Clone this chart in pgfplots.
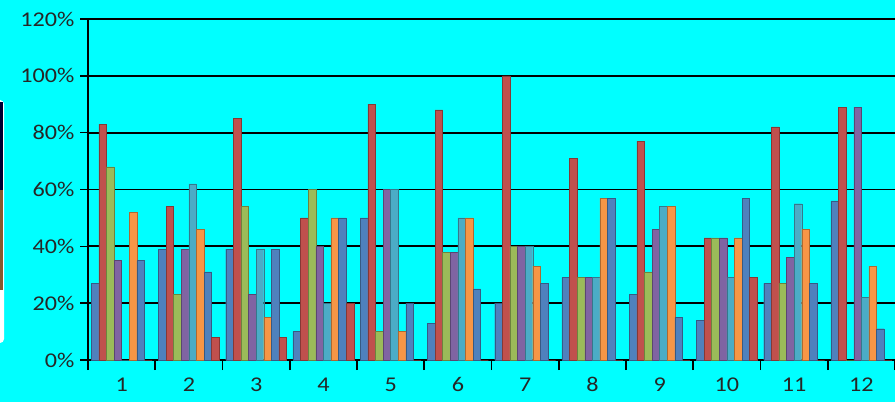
\documentclass[border=0pt]{standalone}
\usepackage{fontspec}
\usepackage{pgfplots}
\usepackage{pgfplotstable}
\pgfplotsset{compat=1.18}
\newfontfamily\lab[FakeStretch=1.15]{Carlito}
\definecolor{bgc}{HTML}{00FFFF}
\definecolor{c1}{HTML}{4F81BD}
\definecolor{c2}{HTML}{C0504D}
\definecolor{c3}{HTML}{9BBB59}
\definecolor{c4}{HTML}{8064A2}
\definecolor{c5}{HTML}{4BACC6}
\definecolor{c6}{HTML}{F79646}
\definecolor{c7}{HTML}{4F81BD}
\definecolor{c8}{HTML}{C0504D}
\pgfplotstableread{
x  a  b   c  d  e  f  g  h
1  27 83  68 35 0  52 35 0
2  39 54  23 39 62 46 31 8
3  39 85  54 23 39 15 39 8
4  10 50  60 40 20 50 50 20
5  50 90  10 60 60 10 20 0
6  13 88  38 38 50 50 25 0
7  20 100 40 40 40 33 27 0
8  29 71  29 29 29 57 57 0
9  23 77  31 46 54 54 15 0
10 14 43  43 43 29 43 57 29
11 27 82  27 36 55 46 27 0
12 56 89  0  89 22 33 11 0
}\data
\begin{document}
\begin{tikzpicture}[x=1pt,y=1pt]
\fill[bgc] (0,0) rectangle (895,402);
\useasboundingbox (0,0) rectangle (895,402);
\begin{scope}
\clip (0,0) rectangle (895,402);
\fill[white, rounded corners=4pt] (-10,59) rectangle (4,302);
\fill[brown!70!black] (-10,112) rectangle (3,212);
\fill[black!80!blue] (-10,212) rectangle (3,300);
\end{scope}
\begin{axis}[
  at={(88pt,42pt)}, anchor=south west,
  scale only axis, width=807pt, height=341pt,
  xmin=0.5, xmax=12.5, ymin=0, ymax=120,
  ybar=0pt, bar width=7.6pt,
  axis x line=bottom, axis y line=left,
  axis line style={-, black, line width=1.8pt},
  ymajorgrids, grid style={black, line width=1.8pt},
  xtick={1,...,12}, xticklabels={1,2,3,4,5,6,7,8,9,10,11,12},
  minor xtick={0.5,1.5,...,12.5},
  major x tick style={draw=none},
  minor x tick style={black, line width=1.6pt},
  ytick={0,20,...,120},
  yticklabels={0\%,20\%,40\%,60\%,80\%,100\%,120\%},
  y tick style={black, line width=1.6pt},
  tick align=outside, major tick length=8pt, minor tick length=10pt,
  ticklabel style={font=\lab\fontsize{21}{21}\selectfont, text=black!85},
  yticklabel style={xshift=-2pt},
  xticklabel style={yshift=-6pt},
  clip=false,
]
\addplot[fill=c1, draw=c1!70!black, line width=0.4pt] table[x=x,y=a]{\data};
\addplot[fill=c2, draw=c2!70!black, line width=0.4pt] table[x=x,y=b]{\data};
\addplot[fill=c3, draw=c3!70!black, line width=0.4pt] table[x=x,y=c]{\data};
\addplot[fill=c4, draw=c4!70!black, line width=0.4pt] table[x=x,y=d]{\data};
\addplot[fill=c5, draw=c5!70!black, line width=0.4pt] table[x=x,y=e]{\data};
\addplot[fill=c6, draw=c6!70!black, line width=0.4pt] table[x=x,y=f]{\data};
\addplot[fill=c7, draw=c7!70!black, line width=0.4pt] table[x=x,y=g]{\data};
\addplot[fill=c8, draw=c8!70!black, line width=0.4pt] table[x=x,y=h]{\data};
\end{axis}
\end{tikzpicture}
\end{document}
